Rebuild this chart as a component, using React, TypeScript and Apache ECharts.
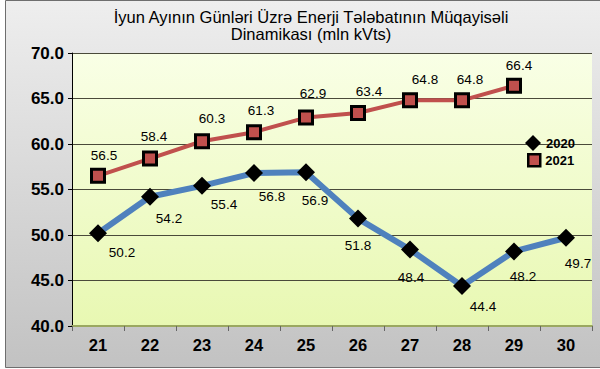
import React, { useEffect, useRef } from "react";
import * as echarts from "echarts";

const days = ["21", "22", "23", "24", "25", "26", "27", "28", "29", "30"];
const values2020 = [50.2, 54.2, 55.4, 56.8, 56.9, 51.8, 48.4, 44.4, 48.2, 49.7];
const values2021 = [56.5, 58.4, 60.3, 61.3, 62.9, 63.4, 64.8, 64.8, 66.4, null];
const labelOffsets2020 = [[24, 19], [19, 22], [22, 19], [18, 23], [9, 28], [0, 27], [1, 28], [21, 21], [9, 25], [12, 26]];
const labelOffsets2021 = [[6, -20], [4, -22], [10, -23], [7, -22], [7, -24], [11, -22], [15, -21], [8, -21], [5, -20], [0, 0]];
const titleText = "İyun Ayının Günləri Üzrə Enerji Tələbatının Müqayisəli\nDinamikası (mln kVts)";

const FONT = "'Liberation Sans', Arial, sans-serif";

export default function App() {
  const ref = useRef<HTMLDivElement>(null);
  useEffect(() => {
    document.body.style.margin = "0";
    const chart = echarts.init(ref.current!, null, { renderer: "svg" });
    const labelStyle = { show: true, position: "inside", fontFamily: FONT, fontSize: 13.5, color: "#000" };
    const legendText = { fontFamily: FONT, fontSize: 13, fontWeight: "bold", color: "#000" };
    chart.setOption({
      animation: false,
      graphic: [
        {
          type: "rect",
          z: -10,
          shape: { x: 5.5, y: 0.5, width: 600, height: 367 },
          style: {
            fill: new echarts.graphic.LinearGradient(0, 0, 0, 1, [
              { offset: 0, color: "#eeeeee" },
              { offset: 1, color: "#c2c2c2" },
            ]),
            stroke: "#6e6e6e",
            lineWidth: 1,
          },
          silent: true,
        },
      ],
      title: {
        text: titleText,
        left: 306,
        top: 3,
        textAlign: "center",
        textStyle: { fontFamily: FONT, fontSize: 16.5, fontWeight: "normal", color: "#000", lineHeight: 17 },
      },
      legend: [
        {
          orient: "vertical",
          left: 525,
          top: 135,
          padding: 0,
          itemGap: 5,
          itemWidth: 16,
          itemHeight: 16,
          textStyle: legendText,
          data: [{ name: "2020", icon: "path://M0,-1L1,0L0,1L-1,0Z", itemStyle: { color: "#000", borderWidth: 0 } }],
        },
        {
          orient: "vertical",
          left: 527,
          top: 153,
          padding: 0,
          itemGap: 4,
          itemWidth: 12,
          itemHeight: 12,
          textStyle: legendText,
          data: [{ name: "2021", icon: "rect", itemStyle: { color: "#C0504D", borderColor: "#000", borderWidth: 2.5 } }],
        },
      ],
      grid: {
        left: 72,
        top: 53,
        right: 8,
        bottom: 43,
        show: true,
        borderWidth: 0,
        backgroundColor: new echarts.graphic.LinearGradient(0, 0, 0, 1, [
          { offset: 0, color: "#f9ffe6" },
          { offset: 1, color: "#e8f8b2" },
        ]),
      },
      xAxis: {
        type: "category",
        data: days,
        boundaryGap: true,
        axisLine: { lineStyle: { color: "#9aa860", width: 2 } },
        axisTick: { show: true, length: 5, lineStyle: { color: "#666" } },
        axisLabel: { fontFamily: FONT, fontSize: 16.5, fontWeight: "bold", color: "#000", margin: 10 },
      },
      yAxis: {
        type: "value",
        min: 40,
        max: 70,
        interval: 5,
        axisLine: { show: true, lineStyle: { color: "#000" } },
        axisTick: { show: true, length: 4, lineStyle: { color: "#000" } },
        axisLabel: {
          fontFamily: FONT,
          fontSize: 17,
          fontWeight: "bold",
          color: "#000",
          margin: 8,
          formatter: (v: number) => v.toFixed(1),
        },
        splitLine: { lineStyle: { color: "#4a4a3a", width: 1 } },
      },
      series: [
        {
          name: "2020",
          type: "line",
          data: values2020.map((v, i) => ({ value: v, label: { offset: labelOffsets2020[i] } })),
          lineStyle: { color: "#4F81BD", width: 6 },
          itemStyle: { color: "#000" },
          symbol: "diamond",
          symbolSize: 18,
          label: labelStyle,
          z: 3,
        },
        {
          name: "2021",
          type: "line",
          data: values2021.map((v, i) => ({ value: v, label: { offset: labelOffsets2021[i] } })),
          lineStyle: { color: "#C0504D", width: 4 },
          itemStyle: { color: "#C0504D", borderColor: "#000", borderWidth: 3 },
          symbol: "rect",
          symbolSize: 13,
          label: labelStyle,
          z: 3,
        },
      ],
    });
    return () => chart.dispose();
  }, []);
  return <div ref={ref} style={{ width: 600, height: 369 }} />;
}
